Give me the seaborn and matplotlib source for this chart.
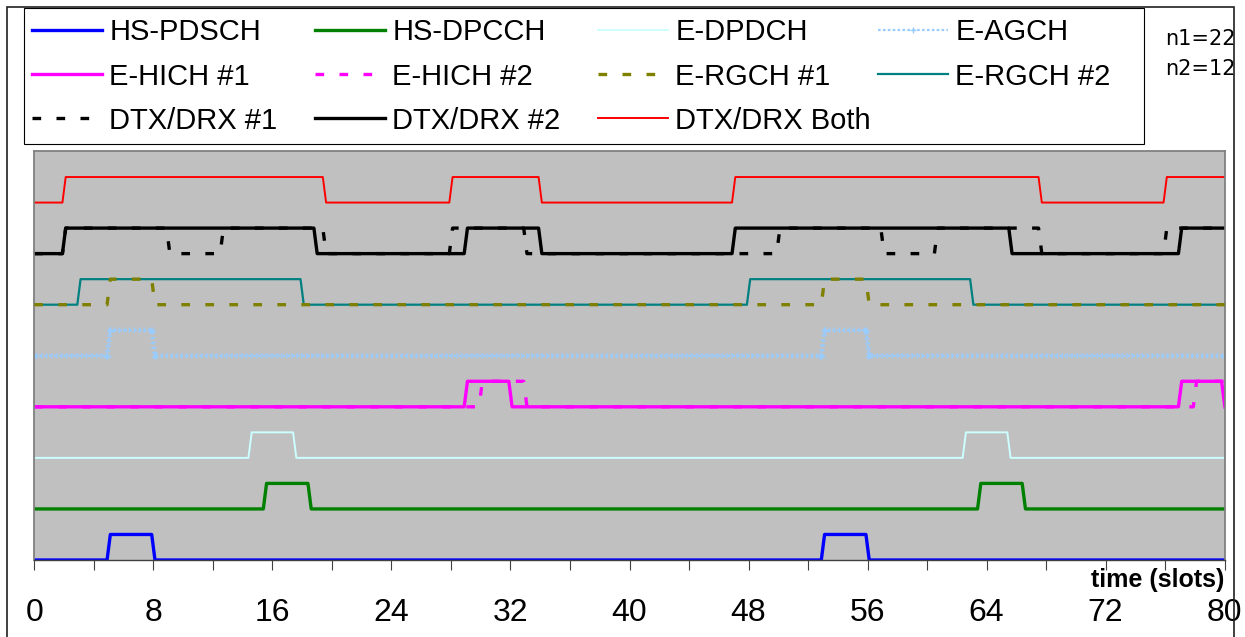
import matplotlib
matplotlib.use("Agg")
import matplotlib.pyplot as plt
import matplotlib.patheffects as pe
import seaborn as sns
import numpy as np
import pandas as pd
from matplotlib.patches import Rectangle
from matplotlib.transforms import Bbox

# ---------------- data (slot times where each channel switches on / off) ----------------
X_MAX = 80
HS_PDSCH_ON = [(5, 8), (53, 56)]
HS_DPCCH_ON = [(15.5, 18.5), (63.5, 66.5)]
E_DPDCH_ON = [(14.5, 17.5), (62.5, 65.5)]
E_HICH1_ON = [(29, 32), (77, 79.9)]
E_HICH2_ON = [(30, 33), (78, 80)]
E_AGCH_ON = [(5, 8), (53, 56)]
E_RGCH1_ON = [(5, 8), (53, 56)]
E_RGCH2_ON = [(3, 18), (48, 63)]
DTX1_ON = [(2, 9), (12.6, 19.5), (28, 33), (50, 57), (60.6, 67.6), (76, 80)]
DTX2_ON = [(2, 18.9), (29, 34), (47, 65.6), (77, 80)]
DTX_BOTH_ON = [(2, 19.5), (28, 34), (47, 67.6), (76, 80)]

SERIES_NAMES = ["HS-PDSCH", "HS-DPCCH", "E-DPDCH", "E-AGCH",
                "E-HICH #1", "E-HICH #2", "E-RGCH #1", "E-RGCH #2",
                "DTX/DRX #1", "DTX/DRX #2", "DTX/DRX Both"]
BASE_LEVELS = [0, 2, 4, 8, 6, 6, 10, 10, 12, 12, 14]
X_TICKS = [0, 8, 16, 24, 32, 40, 48, 56, 64, 72, 80]
NOTE_LINES = ["n1=22", "n2=12"]

RAMP = 0.22  # width of a drawn transition (style)


def waveform(intervals, base):
    xs, ys = [0.0], [base]
    for on, off in intervals:
        xs += [on - RAMP / 2, on + RAMP / 2]
        ys += [base, base + 1]
        if off < X_MAX:
            xs += [off - RAMP / 2, off + RAMP / 2]
            ys += [base + 1, base]
    if xs[-1] < X_MAX:
        xs.append(X_MAX)
        ys.append(ys[-1])
    return pd.DataFrame({"t": xs, "v": ys})


intervals = [HS_PDSCH_ON, HS_DPCCH_ON, E_DPDCH_ON, E_AGCH_ON,
             E_HICH1_ON, E_HICH2_ON, E_RGCH1_ON, E_RGCH2_ON,
             DTX1_ON, DTX2_ON, DTX_BOTH_ON]

THICK = 2.4
THIN = 1.4
DASH = (0, (2.6, 4.6))
AGCH_COLOR = "#99CCFF"
styles = {
    "HS-PDSCH": dict(color="#0000FF", lw=THICK, ls="-"),
    "HS-DPCCH": dict(color="#008000", lw=THICK, ls="-"),
    "E-DPDCH": dict(color="#CCFFFF", lw=THIN, ls="-"),
    "E-AGCH": dict(color=AGCH_COLOR, lw=1.6, ls=(0, (1.2, 1.0)), marker="+",
                   ms=5, mew=1.0, mec=AGCH_COLOR),
    "E-HICH #1": dict(color="#FF00FF", lw=THICK, ls="-"),
    "E-HICH #2": dict(color="#FF00FF", lw=THICK, ls=DASH),
    "E-RGCH #1": dict(color="#808000", lw=THICK, ls=DASH),
    "E-RGCH #2": dict(color="#008080", lw=1.6, ls="-"),
    "DTX/DRX #1": dict(color="#000000", lw=THICK, ls=DASH),
    "DTX/DRX #2": dict(color="#000000", lw=THICK, ls="-"),
    "DTX/DRX Both": dict(color="#FF0000", lw=THIN, ls="-"),
}
zorders = {"E-RGCH #1": 3, "E-RGCH #2": 2.5}

# ---------------- figure ----------------
W, H = 1245, 637
plt.rcParams["font.family"] = ["Liberation Sans", "DejaVu Sans"]
fig = plt.figure(figsize=(W / 100, H / 100), dpi=100)
fig.patch.set_facecolor("white")

x0_px, x1_px = 34.3, 1224.7
y_bot_px, y_top_px = 560.0, 151.5
ax = fig.add_axes([x0_px / W, (H - y_bot_px) / H, (x1_px - x0_px) / W, (y_bot_px - y_top_px) / H])
ax.set_facecolor("#C0C0C0")

handles = {}
for name, iv, base in zip(SERIES_NAMES, intervals, BASE_LEVELS):
    df = waveform(iv, base)
    st = dict(styles[name])
    ls = st.pop("ls")
    sns.lineplot(data=df, x="t", y="v", ax=ax, sort=False, estimator=None,
                 legend=False, linestyle=ls, label=name,
                 zorder=zorders.get(name, 2), **st)
    handles[name] = ax.get_lines()[-1]

# "+" texture along the E-AGCH trace (Excel-style dense markers)
handles["E-AGCH"].set_path_effects([
    pe.Normal(),
    pe.TickedStroke(spacing=3.6, angle=90, length=0.6, linewidth=1.0, foreground=AGCH_COLOR),
    pe.TickedStroke(spacing=3.6, angle=-90, length=0.6, linewidth=1.0, foreground=AGCH_COLOR),
])

if ax.get_legend() is not None:
    ax.get_legend().remove()

ax.set_xlim(0, X_MAX)
ax.set_ylim(0, 16)
ax.set_xlabel("")
ax.set_ylabel("")
ax.set_yticks([])
ax.set_xticks(X_TICKS)
ax.set_xticklabels([str(t) for t in X_TICKS], fontsize=23)
ax.set_xticks([t + 4 for t in X_TICKS[:-1]], minor=True)
ax.tick_params(axis="x", which="both", direction="out", length=7.2, width=0.8,
               color="#404040", pad=20.5)
for s in ["left", "right", "top"]:
    ax.spines[s].set_color("#808080")
    ax.spines[s].set_linewidth(1.3)
ax.spines["bottom"].set_color("#404040")
ax.spines["bottom"].set_linewidth(1.0)

fig.text(1224 / W, 1 - 587 / H, "time (slots)", ha="right", va="baseline",
         fontsize=18, fontweight="bold")

# ---------------- legend (4 columns, row-major order) ----------------
columns = [["HS-PDSCH", "E-HICH #1", "DTX/DRX #1"],
           ["HS-DPCCH", "E-HICH #2", "DTX/DRX #2"],
           ["E-DPDCH", "E-RGCH #1", "DTX/DRX Both"],
           ["E-AGCH", "E-RGCH #2"]]
col_x = [32, 315, 598, 878]
for cx, names in zip(col_x, columns):
    leg = fig.legend(handles=[handles[n] for n in names], labels=names,
                     loc="upper left", bbox_to_anchor=(cx / W, 1 - 18.5 / H),
                     frameon=False, borderpad=0, borderaxespad=0,
                     handlelength=2.4, handletextpad=0.25, labelspacing=0.55,
                     fontsize=21)
    for ln in leg.get_lines():
        ln.set_path_effects([])

fig.add_artist(Rectangle((24 / W, 1 - 144 / H), (1144 - 24) / W, (144 - 8) / H,
                         transform=fig.transFigure, fill=False, edgecolor="#000000",
                         lw=0.8, zorder=5))
fig.add_artist(Rectangle((7 / W, -0.05), (1234 - 7) / W, 1.05 - 7 / H,
                         transform=fig.transFigure, fill=False, edgecolor="#202020",
                         lw=1.2, zorder=5))

clip = Bbox.from_extents(0, 0, 1234, H)
for i, txt in enumerate(NOTE_LINES):
    t = fig.text(1165 / W, 1 - (39 + 30 * i) / H, txt, ha="left", va="center",
                 fontsize=15, family=["DejaVu Sans"])
    t.set_clip_box(clip)
    t.set_clip_on(True)

fig.savefig("out.png", dpi=100)
